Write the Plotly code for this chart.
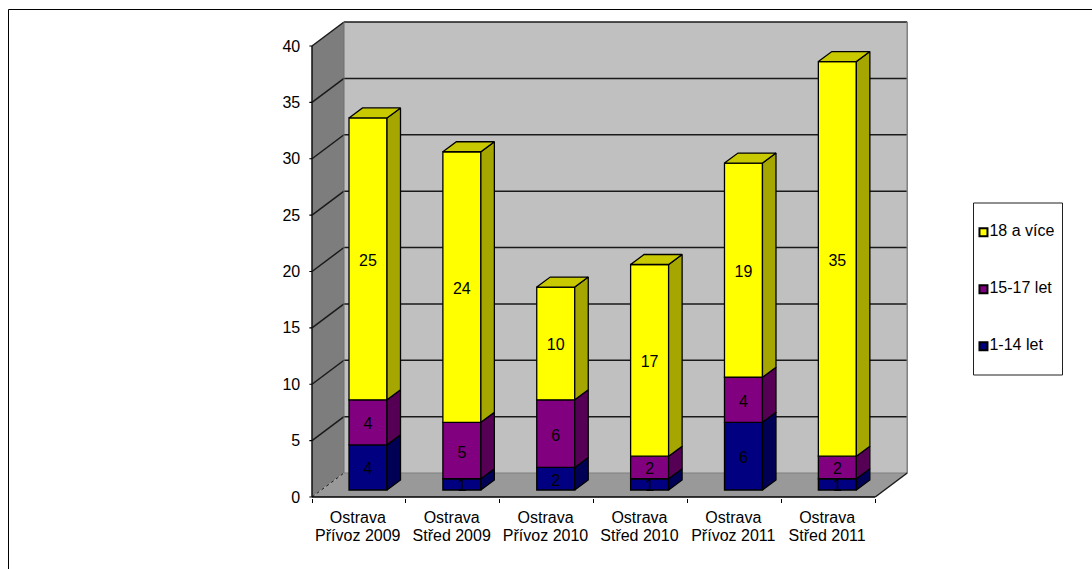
import plotly.graph_objects as go

cat_line1 = ["Ostrava"] * 6
cat_line2 = ["Přívoz 2009", "Střed 2009", "Přívoz 2010", "Střed 2010", "Přívoz 2011", "Střed 2011"]
series_names = ["1-14 let", "15-17 let", "18 a více"]
v_1_14 = [4, 1, 2, 1, 6, 1]
v_15_17 = [4, 5, 6, 2, 4, 2]
v_18 = [25, 24, 10, 17, 19, 35]
y_ticks = [0, 5, 10, 15, 20, 25, 30, 35, 40]

FACE = ["#000080", "#800080", "#FFFF00"]
SIDE = ["#000055", "#550055", "#A6A600"]
TOP = "#C9C900"
FONT = "Liberation Sans"
FS = 16

W, H = 1092, 569
PX_X0, PX_Y0 = 312.0, 497.0      # pixel of the axes origin
PER_CAT = 93.87                  # pixels per category
PER_UNIT = 11.275                # pixels per value unit
n = len(cat_line2)
ymax = y_ticks[-1]
DX, DY = 32 / PER_CAT, 24 / PER_UNIT          # wall depth in data units
BAR_L, BAR_W = 37 / PER_CAT, 38 / PER_CAT      # bar position within a category
BAR_B = 7 / PER_UNIT
BDX, BDY = 13.5 / PER_CAT, 10 / PER_UNIT        # bar depth
LABEL_DROP = 3 / PER_UNIT                       # data labels sit slightly below centre

pad = 0.03
xr = [-pad, n + DX + pad]
yr = [-pad * 4, ymax + DY + pad * 4]
dom_x = [(PX_X0 + xr[0] * PER_CAT) / W, (PX_X0 + xr[1] * PER_CAT) / W]
dom_y = [(H - (PX_Y0 - yr[0] * PER_UNIT)) / H, (H - (PX_Y0 - yr[1] * PER_UNIT)) / H]

shapes = []


def poly(pts, fill, line="rgba(0,0,0,0)", width=0):
    path = "M" + "L".join(f"{x},{y}" for x, y in pts) + "Z"
    shapes.append(dict(type="path", path=path, xref="x", yref="y", layer="below",
                       fillcolor=fill, line=dict(color=line, width=width)))


def seg(x0, y0, x1, y1, color="#1a1a1a", width=1.5, dash="solid", layer="below"):
    shapes.append(dict(type="line", x0=x0, y0=y0, x1=x1, y1=y1, xref="x", yref="y",
                       layer=layer, line=dict(color=color, width=width, dash=dash)))


# walls
poly([(DX, DY), (n + DX, DY), (n + DX, ymax + DY), (DX, ymax + DY)], "#C0C0C0")
poly([(0, 0), (DX, DY), (DX, ymax + DY), (0, ymax)], "#7D7D7D")
poly([(0, 0), (n, 0), (n + DX, DY), (DX, DY)], "#999999")

# grid
for v in y_ticks[1:]:
    seg(0, v, DX, v + DY)
    seg(DX, v + DY, n + DX, v + DY)
seg(DX, DY, n + DX, DY, color="#808080", width=1)
seg(DX, DY, DX, ymax + DY, color="#707070", width=1)
seg(n + DX, DY, n + DX, ymax + DY, color="#808080", width=1.5)
seg(0, 0, DX, DY, width=1, dash="dot")
seg(n, 0, n + DX, DY, width=1.5)
# axis lines and short value ticks
seg(0, 0, 0, ymax, width=1.5, color="#111111", layer="above")
seg(0, 0, n, 0, width=1.5, color="#000000", layer="above")
for v in y_ticks:
    seg(xr[0], v, 0, v, width=1.2, color="#000000", layer="above")

fig = go.Figure()

stack = [v_1_14, v_15_17, v_18]
centers = [i + BAR_L + BAR_W / 2 for i in range(n)]
bases = [BAR_B] * n

text_x, text_y, text_s = [], [], []
side_traces = []
EDGE = dict(color="#000000", width=1.3)
for s, vals in enumerate(stack):
    fig.add_trace(go.Bar(x=centers, y=vals, base=list(bases), width=BAR_W, name=series_names[s],
                         marker=dict(color=FACE[s], line=EDGE),
                         showlegend=False, hoverinfo="skip"))
    for i, v in enumerate(vals):
        xr_edge = i + BAR_L + BAR_W
        b = bases[i]
        t = b + v
        side_traces.append(go.Scatter(
            x=[xr_edge, xr_edge + BDX, xr_edge + BDX, xr_edge, xr_edge],
            y=[b, b + BDY, t + BDY, t, b],
            mode="lines", fill="toself", fillcolor=SIDE[s],
            line=EDGE, showlegend=False, hoverinfo="skip"))
        if s == len(stack) - 1:
            xl = i + BAR_L
            side_traces.append(go.Scatter(
                x=[xl, xl + BDX, xr_edge + BDX, xr_edge, xl],
                y=[t, t + BDY, t + BDY, t, t],
                mode="lines", fill="toself", fillcolor=TOP,
                line=EDGE, showlegend=False, hoverinfo="skip"))
        text_x.append(centers[i])
        text_y.append(b + v / 2 - LABEL_DROP)
        text_s.append(str(v))
        bases[i] = t

fig.add_traces(side_traces)
fig.add_trace(go.Scatter(x=text_x, y=text_y, text=text_s, mode="text", textposition="middle center",
                         textfont=dict(family=FONT, size=FS, color="#000000"),
                         showlegend=False, hoverinfo="skip"))
# empty trace that keeps the axis carrying the second label line
fig.add_trace(go.Scatter(x=[], y=[], xaxis="x3", yaxis="y", showlegend=False, hoverinfo="skip"))

# legend panel on its own small axes
LEG = (973.5, 1062.5, 203.0, 375.0)
leg_names = series_names[::-1]
leg_cols = FACE[::-1]
leg_y = [(375.0 - p) / 172 for p in (232.3, 289.3, 346.3)]
fig.add_trace(go.Scatter(
    x=[0.112] * 3, y=leg_y, mode="markers+text", text=leg_names, textposition="middle right",
    textfont=dict(family=FONT, size=FS, color="#000000"),
    marker=dict(symbol="square", size=8, color=leg_cols, line=dict(color="#000000", width=2)),
    xaxis="x2", yaxis="y2", showlegend=False, hoverinfo="skip", cliponaxis=False))

shapes.append(dict(type="rect", xref="paper", yref="paper", x0=LEG[0] / W, x1=LEG[1] / W,
                   y0=1 - LEG[3] / H, y1=1 - LEG[2] / H, line=dict(color="#202020", width=1),
                   fillcolor="#FFFFFF", layer="below"))
# outer frame
shapes.append(dict(type="line", xref="paper", yref="paper", x0=8.5 / W, x1=1, y0=1 - 9.5 / H, y1=1 - 9.5 / H,
                   line=dict(color="#000000", width=1)))
shapes.append(dict(type="line", xref="paper", yref="paper", x0=8.5 / W, x1=8.5 / W, y0=0, y1=1 - 9.5 / H,
                   line=dict(color="#000000", width=1)))

tickfont = dict(family=FONT, size=FS, color="#000000")
cat_pos = [i + 0.488 for i in range(n)]
fig.update_layout(
    width=W, height=H, autosize=False, margin=dict(l=0, r=0, t=0, b=0, autoexpand=False),
    paper_bgcolor="#FFFFFF", plot_bgcolor="rgba(0,0,0,0)", showlegend=False,
    barmode="overlay", shapes=shapes, font=dict(family=FONT, size=FS, color="#000000"),
    xaxis=dict(domain=dom_x, range=xr, showgrid=False, zeroline=False, showline=False, automargin=False,
               tickmode="array", tickvals=cat_pos, ticktext=cat_line1, tickangle=0,
               ticks="", tickfont=tickfont, ticklabelstandoff=8,
               minor=dict(tickmode="array", tickvals=list(range(n + 1)), ticks="outside",
                          ticklen=4, tickwidth=1, tickcolor="#000000", showgrid=False)),
    xaxis3=dict(domain=dom_x, range=xr, overlaying="x", anchor="y", side="bottom", showgrid=False, zeroline=False,
                showline=False, automargin=False, tickmode="array", tickvals=cat_pos, ticktext=cat_line2,
                tickangle=0, ticks="", tickfont=tickfont, ticklabelstandoff=26),
    yaxis=dict(domain=dom_y, range=yr, showgrid=False, zeroline=False, showline=False, automargin=False,
               tickmode="array", tickvals=y_ticks, ticks="", tickfont=tickfont, ticklabelstandoff=8),
    xaxis2=dict(domain=[LEG[0] / W, LEG[1] / W], range=[0, 1], visible=False, anchor="y2", automargin=False),
    yaxis2=dict(domain=[1 - LEG[3] / H, 1 - LEG[2] / H], range=[0, 1], visible=False, anchor="x2", automargin=False),
)

fig.write_html("out.html", config=dict(displayModeBar=False),
               post_script="document.body.style.margin='0';document.documentElement.style.overflow='hidden';")
